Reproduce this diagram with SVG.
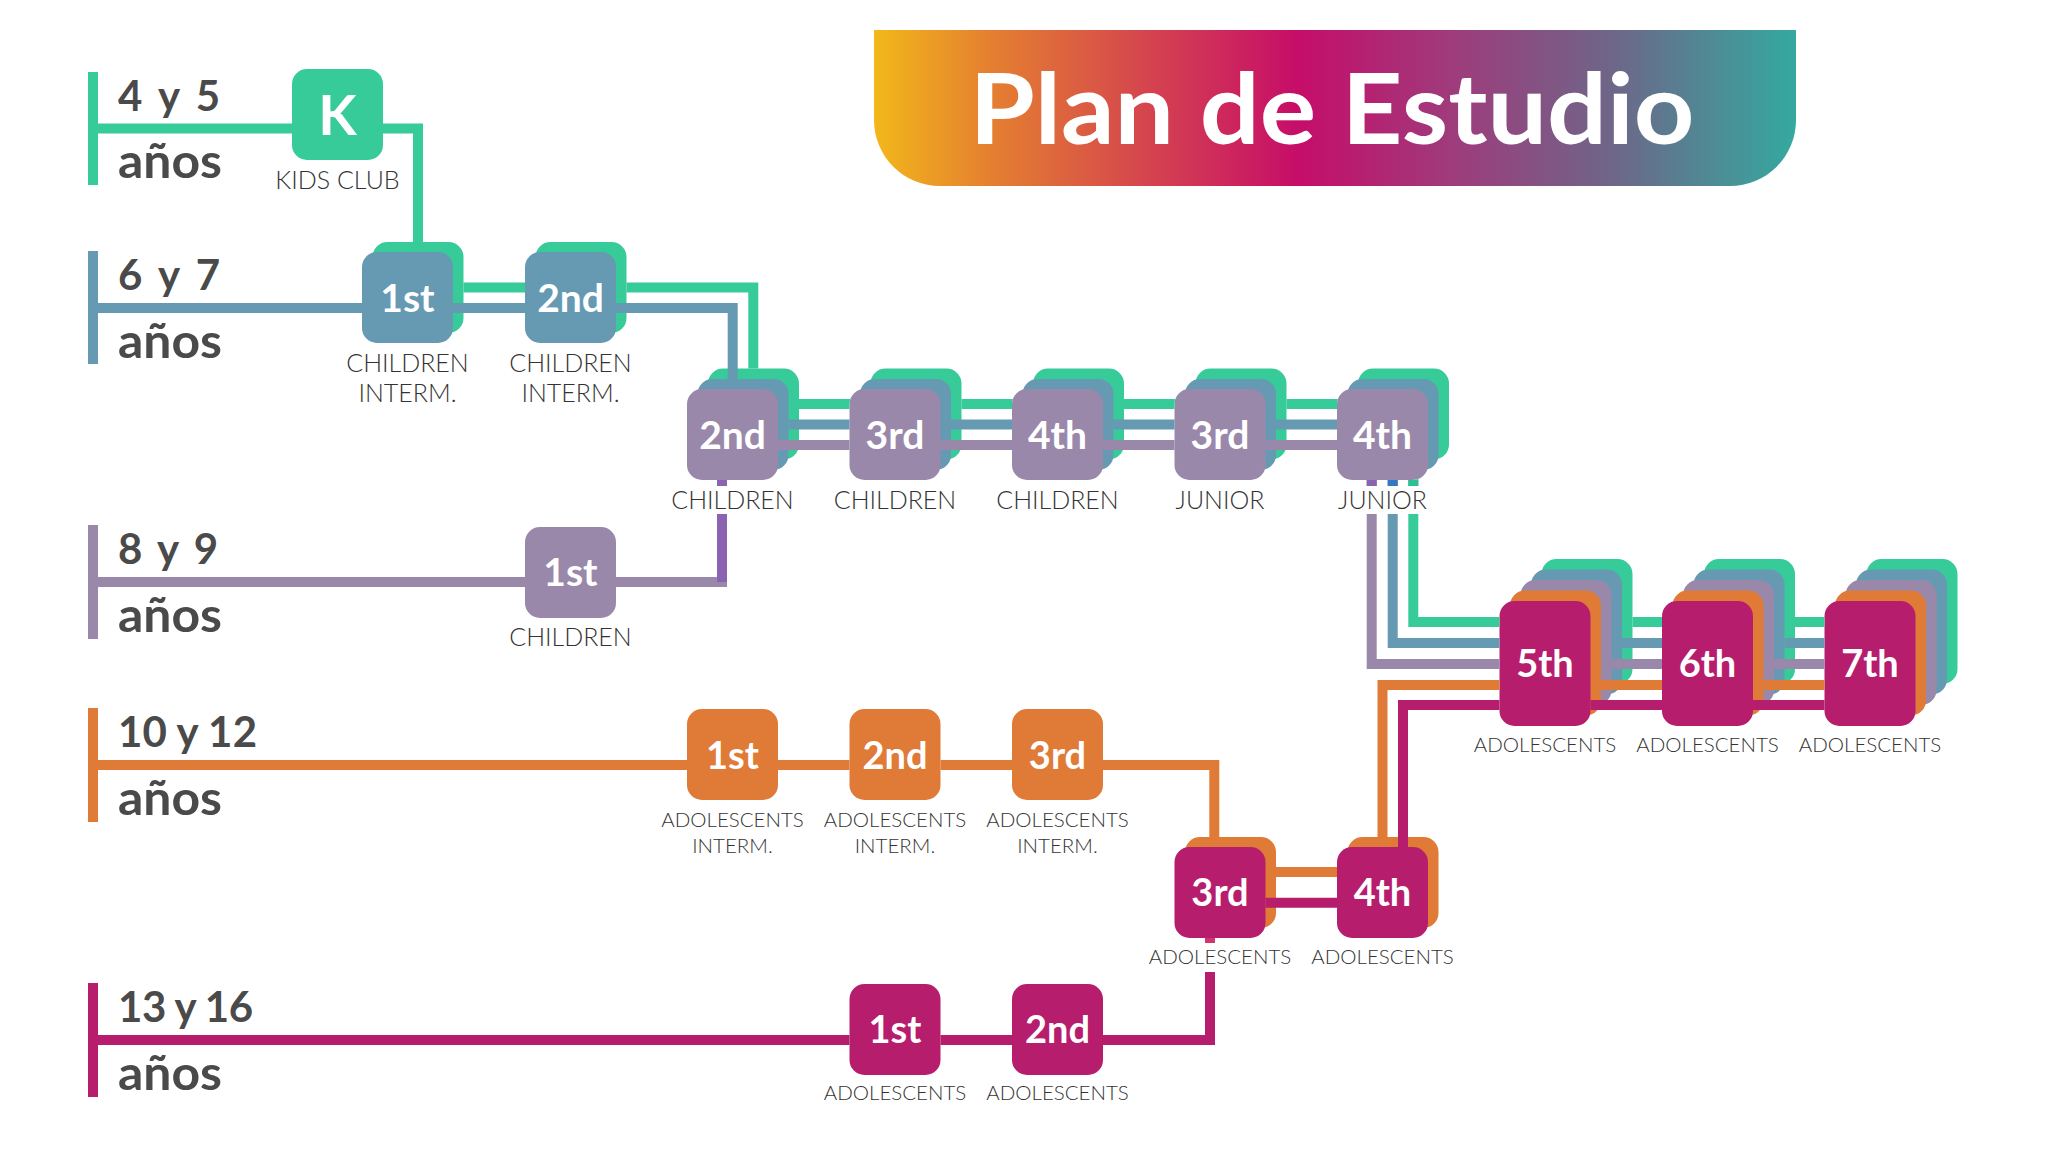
<svg xmlns="http://www.w3.org/2000/svg" xmlns:xlink="http://www.w3.org/1999/xlink" width="2060" height="1163" viewBox="0 0 2060 1163">
<style>
.g{fill:#36CB98}.b{fill:#6699B2}.p{fill:#9A88AA}.o{fill:#E07A37}.m{fill:#B71D6D}
.nt{font-family:Lato,'Open Sans','Liberation Sans',sans-serif;font-weight:700;fill:#fff;text-anchor:middle}
.lb{font-family:Lato,'Open Sans','Liberation Sans',sans-serif;font-weight:300;fill:#333;text-anchor:middle;font-size:25px}
.la{font-size:20.5px}
.age{font-family:Lato,'Open Sans','Liberation Sans',sans-serif;font-weight:700;fill:#4a4a4a}
.dg{font-size:42px}.an{font-size:48px}
.ln{fill:none;stroke-width:10;stroke-linejoin:miter;stroke-linecap:butt}
</style>
<defs>
<linearGradient id="ban" x1="874" y1="0" x2="1796" y2="0" gradientUnits="userSpaceOnUse">
<stop offset="0" stop-color="#F2B81A"/>
<stop offset="0.12" stop-color="#E5822F"/>
<stop offset="0.3" stop-color="#D4434F"/>
<stop offset="0.46" stop-color="#C60D69"/>
<stop offset="0.63" stop-color="#9E3C7C"/>
<stop offset="0.8" stop-color="#6E6688"/>
<stop offset="1" stop-color="#34A9A0"/>
</linearGradient>
<g id="mk0" fill="#000">
<rect x="292" y="69" width="91" height="91" rx="15"/>
<rect x="372.5" y="242" width="91" height="91" rx="15"/>
<rect x="535.5" y="242" width="91" height="91" rx="15"/>
<rect x="708" y="368.5" width="91" height="91" rx="15"/>
<rect x="870.5" y="368.5" width="91" height="91" rx="15"/>
<rect x="1033" y="368.5" width="91" height="91" rx="15"/>
<rect x="1195.5" y="368.5" width="91" height="91" rx="15"/>
<rect x="1358" y="368.5" width="91" height="91" rx="15"/>
<rect x="1541.5" y="559" width="91" height="125" rx="15"/>
<rect x="1704" y="559" width="91" height="125" rx="15"/>
<rect x="1866.5" y="559" width="91" height="125" rx="15"/>
</g>
<g id="mk1" fill="#000">
<rect x="362" y="252" width="91" height="91" rx="15"/>
<rect x="525" y="252" width="91" height="91" rx="15"/>
<rect x="697.5" y="379" width="91" height="91" rx="15"/>
<rect x="860" y="379" width="91" height="91" rx="15"/>
<rect x="1022.5" y="379" width="91" height="91" rx="15"/>
<rect x="1185" y="379" width="91" height="91" rx="15"/>
<rect x="1347.5" y="379" width="91" height="91" rx="15"/>
<rect x="1531" y="569.5" width="91" height="125" rx="15"/>
<rect x="1693.5" y="569.5" width="91" height="125" rx="15"/>
<rect x="1856" y="569.5" width="91" height="125" rx="15"/>
</g>
<g id="mk2" fill="#000">
<rect x="687" y="389" width="91" height="91" rx="15"/>
<rect x="849.5" y="389" width="91" height="91" rx="15"/>
<rect x="1012" y="389" width="91" height="91" rx="15"/>
<rect x="1174.5" y="389" width="91" height="91" rx="15"/>
<rect x="1337" y="389" width="91" height="91" rx="15"/>
<rect x="525" y="527" width="91" height="91" rx="15"/>
<rect x="1520.5" y="580" width="91" height="125" rx="15"/>
<rect x="1683" y="580" width="91" height="125" rx="15"/>
<rect x="1845.5" y="580" width="91" height="125" rx="15"/>
</g>
<g id="mk3" fill="#000">
<rect x="687" y="709" width="91" height="91" rx="15"/>
<rect x="849.5" y="709" width="91" height="91" rx="15"/>
<rect x="1012" y="709" width="91" height="91" rx="15"/>
<rect x="1185" y="837" width="91" height="91" rx="15"/>
<rect x="1347.5" y="837" width="91" height="91" rx="15"/>
<rect x="1510" y="590.5" width="91" height="125" rx="15"/>
<rect x="1672.5" y="590.5" width="91" height="125" rx="15"/>
<rect x="1835" y="590.5" width="91" height="125" rx="15"/>
</g>
<g id="mk4" fill="#000">
<rect x="1174.5" y="847" width="91" height="91" rx="15"/>
<rect x="1337" y="847" width="91" height="91" rx="15"/>
<rect x="849.5" y="984" width="91" height="91" rx="15"/>
<rect x="1012" y="984" width="91" height="91" rx="15"/>
<rect x="1499.5" y="601" width="91" height="125" rx="15"/>
<rect x="1662" y="601" width="91" height="125" rx="15"/>
<rect x="1824.5" y="601" width="91" height="125" rx="15"/>
</g>
<mask id="mG" maskUnits="userSpaceOnUse" x="0" y="0" width="2060" height="1163">
<rect width="2060" height="1163" fill="#fff"/>
<use href="#mk0"/><use href="#mk1"/><use href="#mk2"/><use href="#mk3"/><use href="#mk4"/>
</mask>
<mask id="mB" maskUnits="userSpaceOnUse" x="0" y="0" width="2060" height="1163">
<rect width="2060" height="1163" fill="#fff"/>
<use href="#mk1"/><use href="#mk2"/><use href="#mk3"/><use href="#mk4"/>
</mask>
<mask id="mP" maskUnits="userSpaceOnUse" x="0" y="0" width="2060" height="1163">
<rect width="2060" height="1163" fill="#fff"/>
<use href="#mk2"/><use href="#mk3"/><use href="#mk4"/>
</mask>
<mask id="mO" maskUnits="userSpaceOnUse" x="0" y="0" width="2060" height="1163">
<rect width="2060" height="1163" fill="#fff"/>
<use href="#mk3"/><use href="#mk4"/>
</mask>
<mask id="mM" maskUnits="userSpaceOnUse" x="0" y="0" width="2060" height="1163">
<rect width="2060" height="1163" fill="#fff"/>
<use href="#mk4"/>
</mask>
</defs>
<rect width="2060" height="1163" fill="#fff"/>

<g id="title">
<path d="M874,30 H1796 V120 A66,66 0 0 1 1730,186 H940 A66,66 0 0 1 874,120 Z" fill="url(#ban)"/>
<text x="1332" y="144" font-family="Lato,'Open Sans','Liberation Sans',sans-serif" font-weight="700" font-size="97" fill="#fff" text-anchor="middle" textLength="725" lengthAdjust="spacingAndGlyphs">Plan de Estudio</text>
</g>

<g id="ages">
<rect class="g" x="88" y="72" width="10" height="113"/>
<text class="age dg" x="118" y="110.5" textLength="102" lengthAdjust="spacing">4 y 5</text><text class="age an" x="118" y="178" textLength="104" lengthAdjust="spacingAndGlyphs">años</text>
<rect class="b" x="88" y="251" width="10" height="113"/>
<text class="age dg" x="118" y="290" textLength="102" lengthAdjust="spacing">6 y 7</text><text class="age an" x="118" y="357.5" textLength="104" lengthAdjust="spacingAndGlyphs">años</text>
<rect class="p" x="88" y="525" width="10" height="114"/>
<text class="age dg" x="118" y="564" textLength="100" lengthAdjust="spacing">8 y 9</text><text class="age an" x="118" y="631.5" textLength="104" lengthAdjust="spacingAndGlyphs">años</text>
<rect class="o" x="88" y="708" width="10" height="114"/>
<text class="age dg" x="118" y="747" textLength="139" lengthAdjust="spacing">10 y 12</text><text class="age an" x="118" y="814.5" textLength="104" lengthAdjust="spacingAndGlyphs">años</text>
<rect class="m" x="88" y="983" width="10" height="114"/>
<text class="age dg" x="118" y="1022" textLength="135" lengthAdjust="spacing">13 y 16</text><text class="age an" x="118" y="1089.5" textLength="104" lengthAdjust="spacingAndGlyphs">años</text>
</g>

<g id="node-k">
<rect class="g" x="292" y="69" width="91" height="91" rx="15"/>
<text class="nt" x="337.5" y="135" font-size="56">K</text>
<text class="lb" x="337.5" y="189">KIDS CLUB</text>
</g>
<g id="node-1st-ci">
<rect class="g" x="372.5" y="242" width="91" height="91" rx="15"/>
<rect class="b" x="362" y="252" width="91" height="91" rx="15"/>
<text class="nt" x="407.5" y="312" font-size="39">1st</text>
<text class="lb" x="407.5" y="372">CHILDREN</text><text class="lb" x="407.5" y="402">INTERM.</text>
</g>
<g id="node-2nd-ci">
<rect class="g" x="535.5" y="242" width="91" height="91" rx="15"/>
<rect class="b" x="525" y="252" width="91" height="91" rx="15"/>
<text class="nt" x="570.5" y="312" font-size="39">2nd</text>
<text class="lb" x="570.5" y="372">CHILDREN</text><text class="lb" x="570.5" y="402">INTERM.</text>
</g>
<g id="node-2nd-c">
<rect class="g" x="708" y="368.5" width="91" height="91" rx="15"/>
<rect class="b" x="697.5" y="379" width="91" height="91" rx="15"/>
<rect class="p" x="687" y="389" width="91" height="91" rx="15"/>
<text class="nt" x="732.5" y="449" font-size="39">2nd</text>
<text class="lb" x="732.5" y="509">CHILDREN</text>
</g>
<g id="node-3rd-c">
<rect class="g" x="870.5" y="368.5" width="91" height="91" rx="15"/>
<rect class="b" x="860" y="379" width="91" height="91" rx="15"/>
<rect class="p" x="849.5" y="389" width="91" height="91" rx="15"/>
<text class="nt" x="895" y="449" font-size="39">3rd</text>
<text class="lb" x="895" y="509">CHILDREN</text>
</g>
<g id="node-4th-c">
<rect class="g" x="1033" y="368.5" width="91" height="91" rx="15"/>
<rect class="b" x="1022.5" y="379" width="91" height="91" rx="15"/>
<rect class="p" x="1012" y="389" width="91" height="91" rx="15"/>
<text class="nt" x="1057.5" y="449" font-size="39">4th</text>
<text class="lb" x="1057.5" y="509">CHILDREN</text>
</g>
<g id="node-3rd-j">
<rect class="g" x="1195.5" y="368.5" width="91" height="91" rx="15"/>
<rect class="b" x="1185" y="379" width="91" height="91" rx="15"/>
<rect class="p" x="1174.5" y="389" width="91" height="91" rx="15"/>
<text class="nt" x="1220" y="449" font-size="39">3rd</text>
<text class="lb" x="1220" y="509">JUNIOR</text>
</g>
<g id="node-4th-j">
<rect class="g" x="1358" y="368.5" width="91" height="91" rx="15"/>
<rect class="b" x="1347.5" y="379" width="91" height="91" rx="15"/>
<rect class="p" x="1337" y="389" width="91" height="91" rx="15"/>
<text class="nt" x="1382.5" y="449" font-size="39">4th</text>
<text class="lb" x="1382.5" y="509">JUNIOR</text>
</g>
<g id="node-1st-c">
<rect class="p" x="525" y="527" width="91" height="91" rx="15"/>
<text class="nt" x="570.5" y="586" font-size="39">1st</text>
<text class="lb" x="570.5" y="646">CHILDREN</text>
</g>
<g id="node-1st-ai">
<rect class="o" x="687" y="709" width="91" height="91" rx="15"/>
<text class="nt" x="732.5" y="769" font-size="38">1st</text>
<text class="lb la" x="732.5" y="826.5">ADOLESCENTS</text><text class="lb la" x="732.5" y="852.5">INTERM.</text>
</g>
<g id="node-2nd-ai">
<rect class="o" x="849.5" y="709" width="91" height="91" rx="15"/>
<text class="nt" x="895" y="769" font-size="38">2nd</text>
<text class="lb la" x="895" y="826.5">ADOLESCENTS</text><text class="lb la" x="895" y="852.5">INTERM.</text>
</g>
<g id="node-3rd-ai">
<rect class="o" x="1012" y="709" width="91" height="91" rx="15"/>
<text class="nt" x="1057.5" y="769" font-size="38">3rd</text>
<text class="lb la" x="1057.5" y="826.5">ADOLESCENTS</text><text class="lb la" x="1057.5" y="852.5">INTERM.</text>
</g>
<g id="node-3rd-a">
<rect class="o" x="1185" y="837" width="91" height="91" rx="15"/>
<rect class="m" x="1174.5" y="847" width="91" height="91" rx="15"/>
<text class="nt" x="1220" y="906" font-size="38">3rd</text>
<text class="lb la" x="1220" y="963.5">ADOLESCENTS</text>
</g>
<g id="node-4th-a">
<rect class="o" x="1347.5" y="837" width="91" height="91" rx="15"/>
<rect class="m" x="1337" y="847" width="91" height="91" rx="15"/>
<text class="nt" x="1382.5" y="906" font-size="38">4th</text>
<text class="lb la" x="1382.5" y="963.5">ADOLESCENTS</text>
</g>
<g id="node-1st-a">
<rect class="m" x="849.5" y="984" width="91" height="91" rx="15"/>
<text class="nt" x="895" y="1043" font-size="38">1st</text>
<text class="lb la" x="895" y="1100">ADOLESCENTS</text>
</g>
<g id="node-2nd-a">
<rect class="m" x="1012" y="984" width="91" height="91" rx="15"/>
<text class="nt" x="1057.5" y="1043" font-size="38">2nd</text>
<text class="lb la" x="1057.5" y="1100">ADOLESCENTS</text>
</g>
<g id="node-5th-a">
<rect class="g" x="1541.5" y="559" width="91" height="125" rx="15"/>
<rect class="b" x="1531" y="569.5" width="91" height="125" rx="15"/>
<rect class="p" x="1520.5" y="580" width="91" height="125" rx="15"/>
<rect class="o" x="1510" y="590.5" width="91" height="125" rx="15"/>
<rect class="m" x="1499.5" y="601" width="91" height="125" rx="15"/>
<text class="nt" x="1545" y="677" font-size="38">5th</text>
<text class="lb la" x="1545" y="751.5">ADOLESCENTS</text>
</g>
<g id="node-6th-a">
<rect class="g" x="1704" y="559" width="91" height="125" rx="15"/>
<rect class="b" x="1693.5" y="569.5" width="91" height="125" rx="15"/>
<rect class="p" x="1683" y="580" width="91" height="125" rx="15"/>
<rect class="o" x="1672.5" y="590.5" width="91" height="125" rx="15"/>
<rect class="m" x="1662" y="601" width="91" height="125" rx="15"/>
<text class="nt" x="1707.5" y="677" font-size="38">6th</text>
<text class="lb la" x="1707.5" y="751.5">ADOLESCENTS</text>
</g>
<g id="node-7th-a">
<rect class="g" x="1866.5" y="559" width="91" height="125" rx="15"/>
<rect class="b" x="1856" y="569.5" width="91" height="125" rx="15"/>
<rect class="p" x="1845.5" y="580" width="91" height="125" rx="15"/>
<rect class="o" x="1835" y="590.5" width="91" height="125" rx="15"/>
<rect class="m" x="1824.5" y="601" width="91" height="125" rx="15"/>
<text class="nt" x="1870" y="677" font-size="38">7th</text>
<text class="lb la" x="1870" y="751.5">ADOLESCENTS</text>
</g>

<g id="connectors">
<path class="ln" stroke="#36CB98" mask="url(#mG)" d="M93,128.5 H418 V287.5 H753.3 V404 H1413.3 V486 M1413.3,514 V622 H1870"/>
<path class="ln" stroke="#6699B2" mask="url(#mB)" d="M93,308 H732.7 V424.5 H1392.7 V486 M1392.7,514 V643 H1870"/>
<path class="ln" stroke="#9A88AA" mask="url(#mP)" d="M93,582 H727 M722,486 V445 H1371.7 V486 M1371.7,514 V664 H1870"/>
<path class="ln" stroke="#8A64B0" d="M722,514 V582"/>
<path class="ln" stroke="#E07A37" mask="url(#mO)" d="M93,765 H1214.3 V872 H1382.5 V685 H1870"/>
<path class="ln" stroke="#B71D6D" mask="url(#mM)" d="M93,1040 H1210 V972 M1210,943 V902.7 H1403 V705 H1870"/>
<rect x="717" y="480" width="10" height="6" fill="#8A64B0"/>
<rect x="1366.7" y="480" width="10" height="6" fill="#8A64B0"/>
<rect x="1387.7" y="480" width="10" height="6" fill="#3478C0"/>
<rect x="1408.3" y="480" width="10" height="6" fill="#2DBF93"/>
<rect x="1205" y="938" width="10" height="5" fill="#D03570"/>
</g>
</svg>
